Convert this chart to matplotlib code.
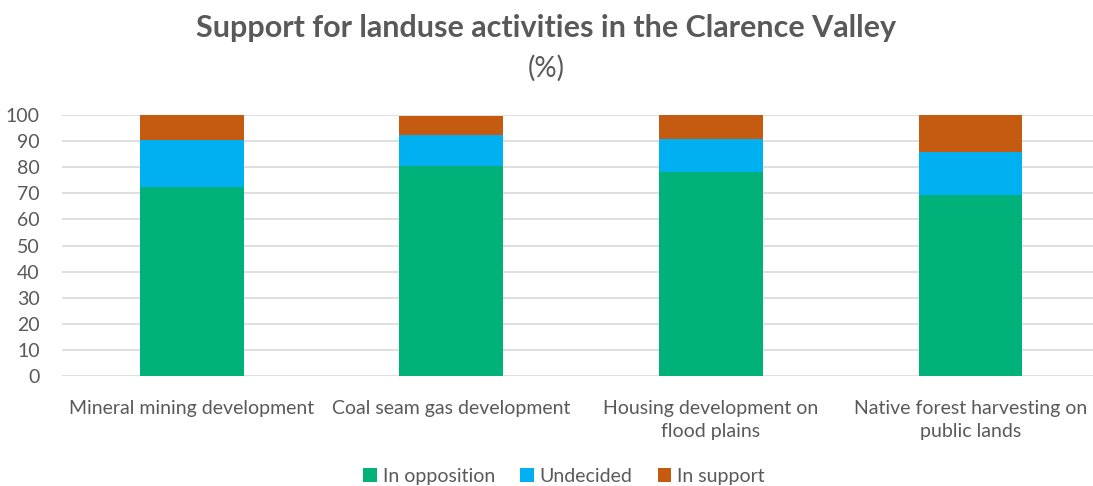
import matplotlib.pyplot as plt
import numpy as np

plt.rcParams['font.family'] = ['Lato', 'DejaVu Sans']

categories = ['Mineral mining development', 'Coal seam gas development',
              'Housing development on\nflood plains', 'Native forest harvesting on\npublic lands']
opposition = [72.5, 80.5, 78.3, 69.5]
undecided = [18.0, 12.0, 12.4, 16.2]
support = [9.5, 7.2, 9.3, 14.3]

green = '#00B27A'
blue = '#00B0F0'
orange = '#C55A11'
grey = '#595959'

fig = plt.figure(figsize=(10.93, 4.86), dpi=100)
ax = fig.add_axes([0.0567, 0.2263, 0.950, 0.5371])

x = np.arange(len(categories))
w = 0.4
ax.bar(x, opposition, w, color=green, label='In opposition', zorder=3)
ax.bar(x, undecided, w, bottom=opposition, color=blue, label='Undecided', zorder=3)
bottom2 = [a + b for a, b in zip(opposition, undecided)]
ax.bar(x, support, w, bottom=bottom2, color=orange, label='In support', zorder=3)

ax.set_xlim(-0.5, 3.5)
ax.set_ylim(0, 100)
ax.set_yticks(range(0, 101, 10))
ax.yaxis.grid(True, color='#D9D9D9', linewidth=1.2, zorder=0)
ax.set_xticks(x)
ax.set_xticklabels(categories, fontsize=14, color=grey, linespacing=1.45)
ax.tick_params(axis='y', labelsize=14, labelcolor=grey, length=0, pad=16)
ax.tick_params(axis='x', length=0, pad=17)
for s in ax.spines.values():
    s.set_visible(False)

fig.text(0.5, 0.942, 'Support for landuse activities in the Clarence Valley',
         ha='center', va='center', fontsize=22, fontweight='bold', color=grey)
fig.text(0.5, 0.86, '(%)', ha='center', va='center', fontsize=20, color=grey)

fig.legend(loc='center', bbox_to_anchor=(0.516, 0.02), ncol=3, frameon=False,
           fontsize=14, labelcolor=grey, handlelength=0.7, handleheight=0.7,
           handletextpad=0.3, columnspacing=1.3)

fig.savefig('out.png')
